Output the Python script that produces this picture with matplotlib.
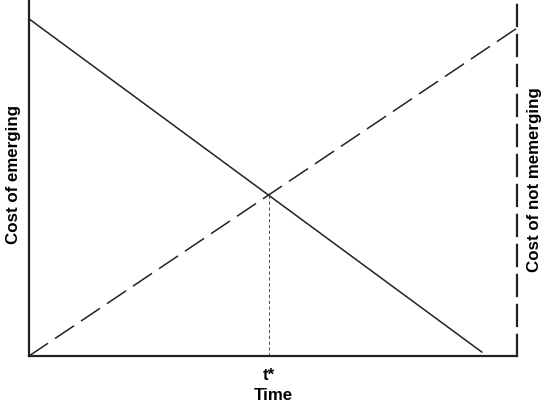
import matplotlib.pyplot as plt

# values (time and cost in arbitrary units, 0..10)
emerging_time = [0, 9.28]
emerging_cost = [9.47, 0.11]
not_merging_time = [0, 10]
not_merging_cost = [0, 9.21]
t_star = 4.91
cost_at_t_star = 4.52
tick_labels = ['t*']

plt.rcParams['font.family'] = ['Liberation Sans', 'DejaVu Sans']
plt.rcParams['font.weight'] = 'bold'

fig = plt.figure(figsize=(5.44, 4.05), dpi=100)
ax = fig.add_axes([29 / 544, 49 / 405, 488 / 544, 356 / 405])

# cost of emerging (solid) and cost of not merging (dashed)
ax.plot(emerging_time, emerging_cost, color='#222222', lw=1.1)
ax.plot(not_merging_time, not_merging_cost, color='#222222', lw=1.1,
        dashes=(15, 5.5))
# dotted drop line at the crossing
ax.plot([t_star, t_star], [0, cost_at_t_star], color='#333333', lw=0.6,
        dashes=(4, 3))

ax.set_xlim(0, 10)
ax.set_ylim(0, 10)

ax.spines['top'].set_visible(False)
for s in ['left', 'bottom', 'right']:
    ax.spines[s].set_linewidth(1.6)
    ax.spines[s].set_color('#222222')
ax.spines['right'].set_linestyle((0, (9.5, 4)))

ax.set_xticks([t_star])
ax.set_xticklabels(tick_labels, fontsize=12.2, fontweight='bold')
ax.tick_params(axis='x', length=0, pad=9)
ax.set_yticks([])

ax.set_xlabel('Time', fontsize=12.2, fontweight='bold', labelpad=3)

ax.text(-15 / 488, 0.51, 'Cost of emerging', transform=ax.transAxes,
        rotation=90, ha='center', va='center', fontsize=12.2,
        fontweight='bold')
ax.text(1 + 18 / 488, 0.495, 'Cost of not memerging', transform=ax.transAxes,
        rotation=90, ha='center', va='center', fontsize=12.2,
        fontweight='bold')

plt.savefig('out.png', dpi=100)
